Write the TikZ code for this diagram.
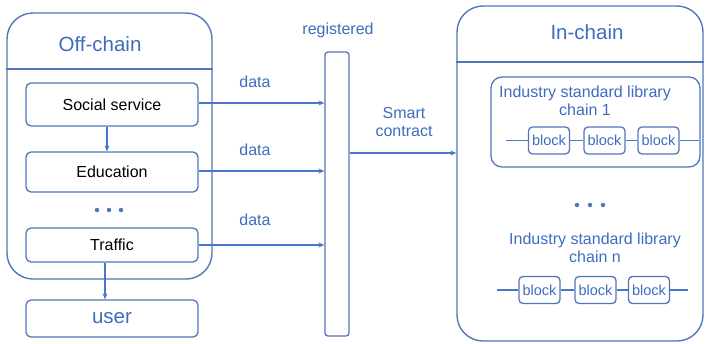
\documentclass[tikz,border=0pt]{standalone}
\usepackage{fontspec}
\setmainfont{Liberation Sans}
\usetikzlibrary{arrows.meta}
\definecolor{frame}{HTML}{5277B8}
\definecolor{ink}{HTML}{3D6CC0}
\definecolor{wire}{HTML}{4A78C8}
\tikzset{
  panel/.style={draw=frame, line width=1.4pt, rounded corners=26pt, inner sep=0pt},
  itembox/.style={draw=frame, line width=1.3pt, rounded corners=5pt, minimum width=172pt, inner sep=0pt,
    font=\fontsize{16}{18}\selectfont, text=black},
  blockbox/.style={draw=frame, line width=1.3pt, rounded corners=4pt, minimum width=41pt, minimum height=27pt,
    inner sep=0pt, font=\fontsize{14.5}{16}\selectfont, text=ink},
  label/.style={text=ink, font=\fontsize{16}{18}\selectfont, align=center, inner sep=0pt},
  head/.style={text=ink, font=\fontsize{20.5}{22}\selectfont, inner sep=0pt},
  arr/.style={draw=wire, line width=1.4pt, -{Stealth[length=6pt,width=5pt]}},
  wireline/.style={draw=wire, line width=1.4pt},
  dotmark/.style={circle, fill=frame, inner sep=0pt, minimum size=4.5pt}
}
\begin{document}
\begin{tikzpicture}[x=1pt,y=-1pt]
\useasboundingbox (0,0) rectangle (706,343);

% ---- Off-chain panel ----
\node[panel, minimum width=205pt, minimum height=266pt] (off) at (109.5,146) {};
\draw[draw=frame, line width=1.3pt] (off.west |- 0,69) -- (off.east |- 0,69);
\node[head] (offt) at (100,44) {Off-chain};

\node[itembox, minimum height=43pt] (soc) at (112,104.5) {Social service};
\node[itembox, minimum height=40pt] (edu) at (112,172) {Education};
\node[itembox, minimum height=34pt] (tra) at (112,245) {Traffic};
\node[itembox, minimum height=37pt, text=ink, font=\fontsize{20.5}{22}\selectfont] (usr) at (112,318.5) {\raisebox{-1.5pt}{user}};
\node[dotmark] (od1) at (97,210) {};
\node[dotmark] (od2) at (109,210) {};
\node[dotmark] (od3) at (121,210) {};

\draw[arr] (soc.south -| 107,0) -- (edu.north -| 107,0);
\draw[arr] (tra.south -| 105,0) -- (usr.north -| 105,0);

% ---- registration bar ----
\node[draw=frame, line width=1.3pt, rounded corners=3pt, minimum width=24pt, minimum height=284pt, inner sep=0pt]
  (bar) at (337,194) {};
\node[label] (reg) at (338,30) {registered};

\draw[arr] (soc.east |- 0,103) -- (bar.west |- 0,103);
\draw[arr] (edu.east |- 0,171) -- (bar.west |- 0,171);
\draw[arr] (tra.east |- 0,245) -- (bar.west |- 0,245);
\node[label] (d1) at (255,82) {data};
\node[label] (d2) at (255,150) {data};
\node[label] (d3) at (255,220) {data};

\node[label] (sc) at (404,122) {Smart\\contract};

% ---- In-chain panel ----
\node[panel, minimum width=246pt, minimum height=335pt] (in) at (580,173.5) {};
\draw[draw=frame, line width=1.3pt] (in.west |- 0,62) -- (in.east |- 0,62);
\node[head] (int) at (587,32) {In-chain};

\draw[arr] (bar.east |- 0,153) -- (in.west |- 0,153);

% chain 1
\node[draw=frame, line width=1.3pt, rounded corners=11pt, minimum width=209pt, minimum height=90pt, inner sep=0pt]
  (c1) at (595.5,122) {};
\node[label] (c1t) at (585,101) {Industry standard library\\chain 1};
\node[blockbox] (b11) at (549,140.5) {block};
\node[blockbox] (b12) at (604.5,140.5) {block};
\node[blockbox] (b13) at (658.5,140.5) {block};
\coordinate (c1l) at (506,140.5);
\coordinate (c1r) at (699,140.5);
\draw[wireline] (c1l) -- (b11.west);
\draw[wireline] (b11.east) -- (b12.west);
\draw[wireline] (b12.east) -- (b13.west);
\draw[wireline] (b13.east) -- (c1r);

% separator dots
\node[dotmark] (id1) at (577,205) {};
\node[dotmark] (id2) at (590,205) {};
\node[dotmark] (id3) at (603,205) {};

% chain n
\node[label] (cnt) at (595,248) {Industry standard library\\chain n};
\node[blockbox] (b21) at (539.5,290) {block};
\node[blockbox] (b22) at (595.5,290) {block};
\node[blockbox] (b23) at (649,290) {block};
\coordinate (cnl) at (497,290);
\coordinate (cnr) at (688,290);
\draw[wireline] (cnl) -- (b21.west);
\draw[wireline] (b21.east) -- (b22.west);
\draw[wireline] (b22.east) -- (b23.west);
\draw[wireline] (b23.east) -- (cnr);
\end{tikzpicture}
\end{document}
